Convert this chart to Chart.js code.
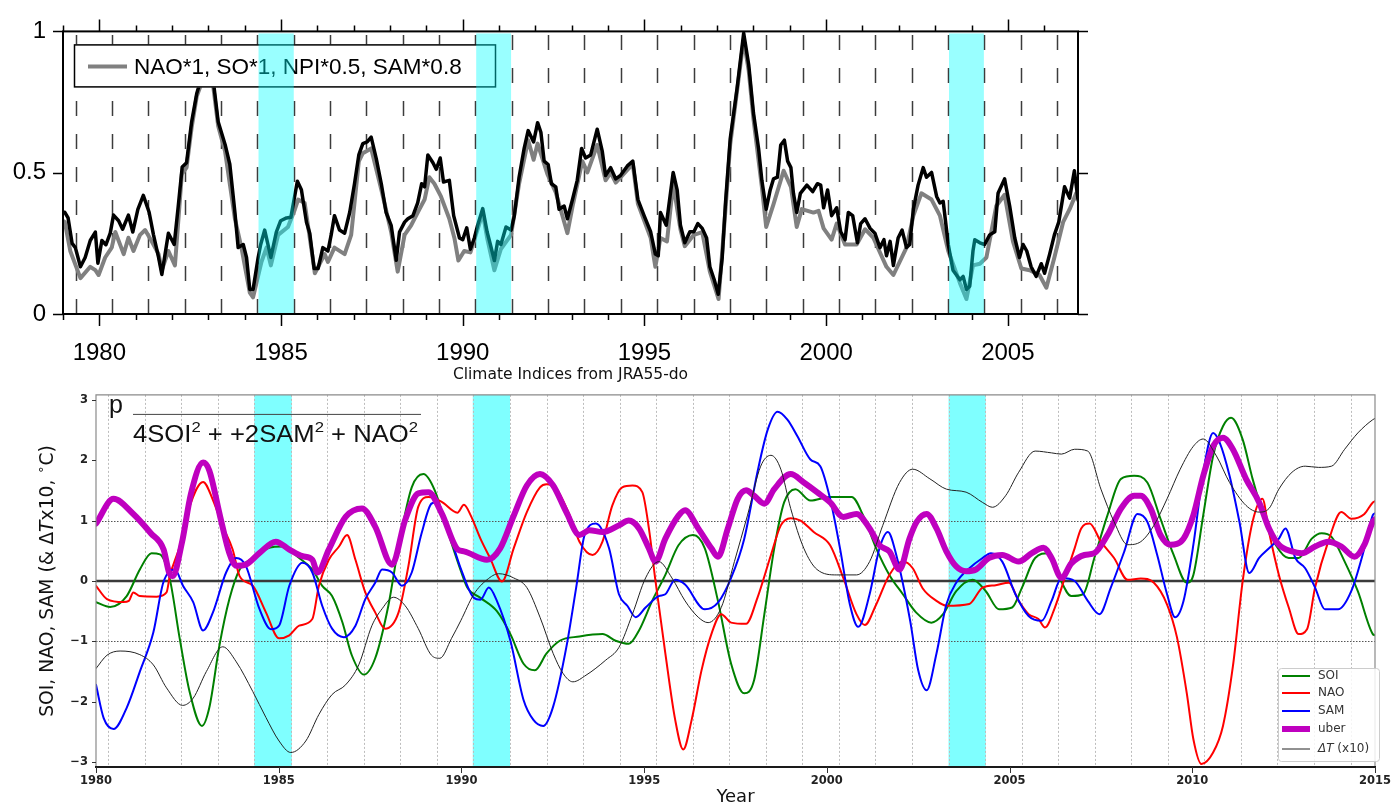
<!DOCTYPE html>
<html>
<head>
<meta charset="utf-8">
<script src="https://cdn.jsdelivr.net/npm/chart.js@4.4.1/dist/chart.umd.min.js"></script>
<style>
  html, body { margin: 0; padding: 0; background: #fff; }
  #wrap { position: relative; width: 1398px; height: 807px; overflow: hidden; }
  #top { position: absolute; left: 0; top: 0; }
  #bot { position: absolute; left: 0; top: 380px; }
</style>
</head>
<body>
<div id="wrap">
  <canvas id="top" width="1398" height="385"></canvas>
  <canvas id="bot" width="1398" height="427"></canvas>
</div>
<script>
// ---------- top panel: combined index (black) and weighted index (gray) ----------
const topLegendLabel = "NAO*1, SO*1, NPI*0.5, SAM*0.8";
const topAxisTitle = "Climate Indices from JRA55-do";
const topTickYears = [1980, 1985, 1990, 1995, 2000, 2005];
const topTickValues = [0, 0.5, 1];

const topBlackYears = [1979.00, 1979.05, 1979.14, 1979.25, 1979.34, 1979.48, 1979.61, 1979.75, 1979.89, 1979.96,
  1980.07, 1980.18, 1980.30, 1980.39, 1980.53, 1980.64, 1980.80, 1980.92, 1981.06, 1981.21, 1981.37, 1981.49,
  1981.63, 1981.72, 1981.90, 1982.06, 1982.17, 1982.28, 1982.40, 1982.54, 1982.68, 1982.82, 1982.97, 1983.14,
  1983.27, 1983.46, 1983.59, 1983.73, 1983.82, 1983.96, 1984.05, 1984.14, 1984.23, 1984.37, 1984.44, 1984.55,
  1984.72, 1984.87, 1984.99, 1985.15, 1985.27, 1985.38, 1985.45, 1985.56, 1985.70, 1985.79, 1985.91, 1986.02,
  1986.15, 1986.29, 1986.38, 1986.47, 1986.61, 1986.75, 1986.89, 1987.02, 1987.14, 1987.25, 1987.37, 1987.48,
  1987.62, 1987.76, 1987.89, 1988.03, 1988.17, 1988.26, 1988.40, 1988.49, 1988.63, 1988.76, 1988.87, 1988.95,
  1989.04, 1989.18, 1989.27, 1989.38, 1989.47, 1989.63, 1989.75, 1989.91, 1990.00, 1990.11, 1990.21, 1990.32,
  1990.41, 1990.55, 1990.67, 1990.76, 1990.87, 1990.96, 1991.05, 1991.19, 1991.33, 1991.42, 1991.55, 1991.69,
  1991.80, 1991.95, 1992.06, 1992.15, 1992.24, 1992.35, 1992.44, 1992.56, 1992.65, 1992.79, 1992.88, 1993.02,
  1993.15, 1993.27, 1993.38, 1993.52, 1993.70, 1993.84, 1993.93, 1994.07, 1994.21, 1994.34, 1994.53, 1994.68,
  1994.82, 1994.99, 1995.17, 1995.30, 1995.38, 1995.44, 1995.60, 1995.79, 1995.90, 1995.99, 1996.11, 1996.25,
  1996.36, 1996.47, 1996.59, 1996.71, 1996.80, 1996.92, 1997.03, 1997.14, 1997.23, 1997.36, 1997.55, 1997.73,
  1997.87, 1998.00, 1998.14, 1998.23, 1998.35, 1998.46, 1998.55, 1998.66, 1998.75, 1998.85, 1998.94, 1999.03,
  1999.10, 1999.19, 1999.29, 1999.47, 1999.63, 1999.76, 1999.85, 1999.93, 2000.04, 2000.15, 2000.29, 2000.40,
  2000.52, 2000.61, 2000.73, 2000.86, 2000.95, 2001.07, 2001.21, 2001.34, 2001.48, 2001.59, 2001.66, 2001.76,
  2001.85, 2001.98, 2002.09, 2002.21, 2002.30, 2002.40, 2002.53, 2002.67, 2002.76, 2002.90, 2003.04, 2003.13,
  2003.22, 2003.36, 2003.49, 2003.68, 2003.77, 2003.86, 2003.95, 2004.04, 2004.09, 2004.23, 2004.36, 2004.50,
  2004.64, 2004.73, 2004.91, 2005.05, 2005.19, 2005.32, 2005.42, 2005.52, 2005.64, 2005.78, 2005.92, 2006.01,
  2006.15, 2006.28, 2006.40, 2006.56, 2006.70, 2006.83, 2006.93];
const topBlackValues = [0.36, 0.36, 0.34, 0.25, 0.235, 0.167, 0.20, 0.26, 0.29, 0.18,
  0.26, 0.245, 0.286, 0.35, 0.33, 0.30, 0.35, 0.29, 0.37, 0.42, 0.36, 0.28,
  0.20, 0.14, 0.286, 0.246, 0.38, 0.52, 0.535, 0.68, 0.78, 0.84, 0.90, 0.82,
  0.68, 0.60, 0.53, 0.36, 0.235, 0.246, 0.20, 0.087, 0.087, 0.20, 0.246, 0.297,
  0.20, 0.29, 0.33, 0.34, 0.342, 0.42, 0.47, 0.44, 0.325, 0.286, 0.161, 0.161,
  0.235, 0.223, 0.28, 0.348, 0.297, 0.286, 0.36, 0.46, 0.563, 0.603, 0.609, 0.626,
  0.55, 0.46, 0.36, 0.314, 0.19, 0.29, 0.325, 0.337, 0.348, 0.393, 0.461, 0.45,
  0.563, 0.535, 0.512, 0.552, 0.467, 0.473, 0.348, 0.269, 0.263, 0.305, 0.229, 0.269,
  0.314, 0.373, 0.291, 0.246, 0.189, 0.257, 0.246, 0.308, 0.297, 0.348, 0.484, 0.586,
  0.649, 0.609, 0.677, 0.643, 0.541, 0.529, 0.461, 0.45, 0.371, 0.382, 0.337, 0.405,
  0.473, 0.586, 0.552, 0.563, 0.654, 0.575, 0.49, 0.518, 0.478, 0.49, 0.524, 0.541,
  0.405, 0.348, 0.291, 0.212, 0.206, 0.359, 0.314, 0.501, 0.439, 0.314, 0.252, 0.291,
  0.291, 0.32, 0.303, 0.269, 0.167, 0.121, 0.07, 0.20, 0.393, 0.62, 0.80, 0.994,
  0.881, 0.711, 0.586, 0.473, 0.371, 0.439, 0.478, 0.484, 0.598, 0.615, 0.541, 0.518,
  0.427, 0.359, 0.427, 0.456, 0.433, 0.461, 0.456, 0.376, 0.439, 0.348, 0.376, 0.291,
  0.263, 0.359, 0.348, 0.252, 0.32, 0.337, 0.303, 0.286, 0.235, 0.263, 0.206, 0.257,
  0.172, 0.269, 0.297, 0.235, 0.246, 0.371, 0.456, 0.518, 0.484, 0.501, 0.416, 0.393,
  0.399, 0.246, 0.155, 0.121, 0.133, 0.087, 0.098, 0.223, 0.263, 0.252, 0.246, 0.28,
  0.291, 0.427, 0.478, 0.382, 0.269, 0.20, 0.246, 0.223, 0.167, 0.133, 0.178, 0.144,
  0.212, 0.28, 0.325, 0.45, 0.41, 0.507, 0.405];

const topGrayYears = [1979.00, 1979.05, 1979.20, 1979.48, 1979.75, 1979.89, 1979.98, 1980.16, 1980.34, 1980.44,
  1980.67, 1980.80, 1980.94, 1981.12, 1981.26, 1981.44, 1981.63, 1981.72, 1981.90, 1982.08, 1982.27, 1982.40,
  1982.54, 1982.68, 1982.82, 1982.97, 1983.14, 1983.27, 1983.46, 1983.73, 1983.91, 1984.14, 1984.23, 1984.46,
  1984.60, 1984.72, 1984.92, 1985.19, 1985.38, 1985.47, 1985.65, 1985.79, 1985.93, 1986.20, 1986.29, 1986.47,
  1986.75, 1986.93, 1987.14, 1987.25, 1987.48, 1987.76, 1988.03, 1988.21, 1988.40, 1988.58, 1988.81, 1988.95,
  1989.08, 1989.22, 1989.40, 1989.63, 1989.77, 1989.88, 1990.04, 1990.21, 1990.41, 1990.55, 1990.67, 1990.87,
  1991.05, 1991.33, 1991.55, 1991.80, 1991.95, 1992.06, 1992.33, 1992.56, 1992.88, 1993.02, 1993.29, 1993.43,
  1993.70, 1993.93, 1994.07, 1994.21, 1994.53, 1994.68, 1994.82, 1995.17, 1995.30, 1995.44, 1995.62, 1995.79,
  1995.99, 1996.11, 1996.36, 1996.59, 1996.80, 1997.04, 1997.23, 1997.36, 1997.73, 1997.87, 1998.00, 1998.23,
  1998.35, 1998.55, 1998.83, 1999.03, 1999.19, 1999.33, 1999.65, 1999.79, 1999.93, 2000.15, 2000.29, 2000.52,
  2000.84, 2001.07, 2001.30, 2001.66, 2001.85, 2002.21, 2002.40, 2002.62, 2002.90, 2003.13, 2003.36, 2003.68,
  2003.86, 2004.04, 2004.23, 2004.41, 2004.68, 2004.91, 2005.14, 2005.37, 2005.60, 2005.87, 2006.06, 2006.28,
  2006.52, 2006.70, 2006.88, 2006.93];
const topGrayValues = [0.33, 0.325, 0.223, 0.127, 0.167, 0.155, 0.138, 0.20, 0.235, 0.29,
  0.212, 0.27, 0.223, 0.28, 0.297, 0.257, 0.212, 0.155, 0.223, 0.172, 0.495, 0.518,
  0.66, 0.77, 0.82, 0.88, 0.80, 0.665, 0.575, 0.337, 0.235, 0.076, 0.059, 0.184,
  0.235, 0.172, 0.28, 0.308, 0.37, 0.405, 0.393, 0.27, 0.144, 0.212, 0.184, 0.235,
  0.212, 0.28, 0.54, 0.569, 0.586, 0.44, 0.29, 0.15, 0.28, 0.314, 0.371, 0.405,
  0.484, 0.461, 0.416, 0.337, 0.269, 0.189, 0.223, 0.218, 0.30, 0.359, 0.27, 0.155,
  0.23, 0.28, 0.461, 0.615, 0.546, 0.603, 0.495, 0.43, 0.286, 0.38, 0.541, 0.501,
  0.598, 0.473, 0.50, 0.465, 0.51, 0.53, 0.39, 0.27, 0.167, 0.269, 0.257, 0.461,
  0.30, 0.24, 0.28, 0.29, 0.15, 0.053, 0.37, 0.60, 0.972, 0.86, 0.69, 0.45,
  0.308, 0.388, 0.507, 0.45, 0.308, 0.371, 0.359, 0.365, 0.303, 0.263, 0.32, 0.246,
  0.246, 0.30, 0.269, 0.167, 0.138, 0.235, 0.348, 0.427, 0.405, 0.348, 0.223, 0.11,
  0.053, 0.172, 0.178, 0.20, 0.382, 0.422, 0.257, 0.161, 0.155, 0.138, 0.093, 0.20,
  0.325, 0.371, 0.427, 0.40];

// highlighted periods (decimal years)
const topBandStarts = [1984.38, 1990.37, 2003.38];
const topBandEnds = [1985.35, 1991.33, 2004.34];
const botBandStarts = [1984.33, 1990.31, 2003.33];
const botBandEnds = [1985.36, 1991.33, 2004.35];

// ---------- bottom panel: climate indices ----------
const botTickYears = [1980, 1985, 1990, 1995, 2000, 2005, 2010, 2015];
const botTickValues = [-3, -2, -1, 0, 1, 2, 3];
const seriesLabels = ["SOI", "NAO", "SAM", "uber", "\u0394T (x10)"];

const soiYears = [1980.0, 1980.39, 1980.84, 1981.2, 1981.52, 1981.75, 1982.02, 1982.29, 1982.56, 1982.9, 1983.1,
  1983.38, 1983.65, 1983.93, 1984.29, 1984.74, 1985.1, 1985.56, 1985.92, 1986.19, 1986.46, 1986.74, 1987.0,
  1987.33, 1987.64, 1988.0, 1988.28, 1988.64, 1988.96, 1989.27, 1989.64, 1990.0, 1990.16, 1990.52, 1990.97,
  1991.34, 1991.70, 1992.01, 1992.33, 1992.69, 1993.23, 1993.86, 1994.22, 1994.58, 1994.86, 1995.22, 1995.58,
  1995.94, 1996.34, 1996.66, 1997.02, 1997.38, 1997.74, 1998.01, 1998.29, 1998.56, 1998.83, 1999.14, 1999.55,
  2000.09, 2000.68, 2000.99, 2001.35, 2001.71, 2002.08, 2002.44, 2002.86, 2003.18, 2003.54, 2003.99, 2004.35,
  2004.71, 2005.07, 2005.34, 2005.70, 2006.06, 2006.33, 2006.69, 2007.01, 2007.32, 2007.68, 2008.05, 2008.41,
  2008.77, 2009.13, 2009.49, 2009.85, 2010.03, 2010.30, 2010.57, 2010.84, 2011.06, 2011.38, 2011.65, 2012.01,
  2012.28, 2012.64, 2012.91, 2013.27, 2013.54, 2013.81, 2014.17, 2014.53, 2014.94, 2015.0];
const soiValues = [-0.35, -0.43, -0.25, 0.19, 0.46, 0.44, 0.03, -0.95, -1.83, -2.4, -2.1,
  -1.06, -0.3, 0.19, 0.38, 0.55, 0.57, 0.38, 0.19, -0.08, -0.25, -0.68, -1.23,
  -1.55, -1.28, -0.41, 0.57, 1.55, 1.77, 1.5, 0.79, 0.14, -0.11, -0.28, -0.5,
  -0.88, -1.37, -1.48, -1.2, -0.99, -0.92, -0.88, -0.99, -1.04, -0.82, -0.33, 0.1,
  0.59, 0.76, 0.54, -0.33, -1.37, -1.86, -1.64, -0.55, 0.54, 1.3, 1.52, 1.33,
  1.39, 1.39, 1.09, 0.54, 0.1, -0.22, -0.52, -0.69, -0.55, -0.17, 0.02, -0.17,
  -0.47, -0.44, -0.11, 0.38, 0.46, 0.1, -0.25, -0.22, 0.38, 1.09, 1.69, 1.74,
  1.63, 1.03, 0.43, -0.03, 0.1, 1.09, 2.07, 2.56, 2.7, 2.34, 1.69, 0.98,
  0.6, 0.38, 0.38, 0.7, 0.79, 0.73, 0.32, -0.17, -0.88, -0.9];

const naoYears = [1980.0, 1980.3, 1980.75, 1980.9, 1981.02, 1981.2, 1981.66, 1981.93, 1982.02, 1982.29, 1982.56,
  1982.93, 1983.2, 1983.47, 1983.74, 1983.93, 1984.29, 1984.65, 1985.01, 1985.29, 1985.56, 1985.92, 1986.1,
  1986.37, 1986.65, 1986.87, 1987.1, 1987.37, 1987.64, 1987.91, 1988.28, 1988.55, 1988.82, 1989.1, 1989.46,
  1989.89, 1990.07, 1990.25, 1990.52, 1990.79, 1991.11, 1991.43, 1991.79, 1992.15, 1992.33, 1992.60, 1992.96,
  1993.23, 1993.59, 1993.86, 1994.13, 1994.40, 1994.68, 1994.95, 1995.13, 1995.31, 1995.58, 1995.85, 1996.07,
  1996.30, 1996.57, 1996.84, 1997.11, 1997.38, 1997.79, 1998.10, 1998.47, 1998.74, 1999.01, 1999.28, 1999.64,
  2000.09, 2000.45, 2000.81, 2001.04, 2001.35, 2001.71, 2002.08, 2002.35, 2002.62, 2003.0, 2003.27, 2003.90,
  2004.26, 2004.62, 2004.98, 2005.25, 2005.52, 2005.79, 2005.97, 2006.24, 2006.51, 2006.78, 2006.96, 2007.19,
  2007.50, 2007.86, 2008.23, 2008.59, 2008.95, 2009.31, 2009.58, 2009.85, 2010.03, 2010.25, 2010.57, 2010.84,
  2011.11, 2011.38, 2011.65, 2011.92, 2012.10, 2012.37, 2012.64, 2012.91, 2013.14, 2013.36, 2013.72, 2014.08,
  2014.35, 2014.71, 2014.94, 2015.0];
const naoValues = [-0.08, -0.3, -0.35, -0.33, -0.19, -0.25, -0.26, -0.19, 0.08, 0.57, 1.23,
  1.64, 1.34, 0.9, 0.52, 0.08, -0.08, -0.52, -0.95, -0.9, -0.74, -0.63, -0.08,
  0.35, 0.57, 0.76, 0.35, -0.19, -0.52, -0.79, -0.52, 0.25, 1.23, 1.39, 1.31,
  1.13, 1.26, 1.09, 0.70, 0.37, -0.01, 0.54, 1.14, 1.55, 1.60, 1.52, 1.09,
  0.65, 0.43, 0.65, 1.25, 1.55, 1.58, 1.47, 0.87, 0.0, -1.2, -2.3, -2.79,
  -2.3, -1.48, -0.88, -0.55, -0.69, -0.71, -0.28, 0.43, 0.92, 1.04, 1.0, 0.81,
  0.59, 0.05, -0.55, -0.73, -0.39, 0.1, 0.32, 0.21, -0.12, -0.33, -0.41, -0.38,
  -0.11, -0.07, -0.03, -0.33, -0.55, -0.63, -0.77, -0.44, 0.05, 0.54, 0.87, 0.95,
  0.65, 0.38, 0.02, 0.04, -0.03, -0.39, -0.93, -1.86, -2.62, -3.03, -2.84, -2.4,
  -1.42, 0.0, 0.98, 1.36, 0.81, 0.1, -0.44, -0.88, -0.8, -0.11, 0.65, 1.14,
  1.03, 1.11, 1.3, 1.32];

const samYears = [1980.0, 1980.21, 1980.48, 1980.84, 1981.2, 1981.57, 1981.84, 1982.16, 1982.38, 1982.66, 1982.93,
  1983.2, 1983.56, 1983.84, 1984.1, 1984.47, 1984.79, 1985.01, 1985.29, 1985.65, 1985.92, 1986.19, 1986.46,
  1986.78, 1987.1, 1987.37, 1987.64, 1987.83, 1988.1, 1988.37, 1988.64, 1988.91, 1989.18, 1989.3, 1989.62,
  1989.98, 1990.34, 1990.52, 1990.75, 1990.97, 1991.34, 1991.70, 1991.97, 1992.24, 1992.51, 1992.87, 1993.14,
  1993.37, 1993.68, 1994.04, 1994.31, 1994.54, 1994.77, 1995.04, 1995.40, 1995.58, 1995.85, 1996.12, 1996.66,
  1997.02, 1997.38, 1997.74, 1998.10, 1998.38, 1998.65, 1998.92, 1999.19, 1999.55, 1999.82, 2000.09, 2000.36,
  2000.63, 2000.86, 2001.17, 2001.44, 2001.67, 2001.90, 2002.28, 2002.50, 2002.73, 2003.0, 2003.27, 2003.54,
  2003.90, 2004.26, 2004.49, 2004.80, 2005.16, 2005.52, 2005.88, 2006.15, 2006.42, 2006.78, 2007.14, 2007.46,
  2007.77, 2008.14, 2008.50, 2008.77, 2009.04, 2009.31, 2009.53, 2009.76, 2010.03, 2010.30, 2010.57, 2010.75,
  2011.02, 2011.29, 2011.56, 2011.83, 2012.10, 2012.37, 2012.55, 2012.82, 2013.09, 2013.36, 2013.63, 2013.99,
  2014.35, 2014.71, 2014.94, 2015.0];
const samValues = [-1.72, -2.27, -2.45, -2.1, -1.5, -0.85, -0.03, 0.19, -0.08, -0.35, -0.82,
  -0.52, 0.14, 0.38, 0.25, -0.46, -0.8, -0.74, -0.08, 0.3, 0.14, -0.41, -0.79,
  -0.93, -0.74, -0.3, -0.03, 0.19, 0.14, -0.08, 0.14, 0.79, 1.28, 1.3, 0.87,
  0.21, -0.28, -0.31, -0.11, -0.33, -0.99, -1.97, -2.3, -2.4, -2.08, -1.1, -0.11,
  0.76, 0.95, 0.54, -0.22, -0.41, -0.6, -0.44, -0.25, -0.22, 0.02, -0.06, -0.47,
  -0.36, 0.05, 0.7, 1.8, 2.5, 2.8, 2.67, 2.4, 2.01, 1.9, 1.36, 0.54,
  -0.39, -0.76, -0.22, 0.54, 0.81, 0.43, -0.66, -1.48, -1.81, -1.2, -0.39, -0.03,
  0.21, 0.38, 0.46, 0.32, -0.22, -0.58, -0.66, -0.33, 0.05, 0.0, -0.33, -0.55,
  -0.11, 0.49, 1.11, 0.98, 0.43, -0.22, -0.6, -0.33, 0.6, 1.8, 2.45, 2.29,
  1.74, 0.98, 0.13, 0.38, 0.54, 0.7, 0.87, 0.38, 0.21, -0.11, -0.47, -0.47,
  -0.17, 0.54, 1.09, 1.12];

const uberYears = [1980.0, 1980.48, 1981.0, 1981.5, 1981.85, 1982.0, 1982.1, 1982.35, 1982.6, 1982.93, 1983.1,
  1983.4, 1983.65, 1983.84, 1984.1, 1984.47, 1984.92, 1985.29, 1985.65, 1985.92, 1986.06, 1986.37, 1986.83,
  1987.28, 1987.64, 1988.1, 1988.46, 1988.82, 1989.1, 1989.46, 1989.9, 1990.07, 1990.70, 1991.06, 1991.43,
  1991.79, 1992.15, 1992.51, 1992.87, 1993.23, 1993.50, 1993.86, 1994.31, 1994.58, 1994.86, 1995.13, 1995.31,
  1995.58, 1995.94, 1996.12, 1996.48, 1996.84, 1997.02, 1997.29, 1997.56, 1997.79, 1998.01, 1998.29, 1998.56,
  1999.01, 1999.37, 1999.73, 2000.09, 2000.45, 2000.81, 2001.17, 2001.44, 2001.71, 2001.99, 2002.26, 2002.46,
  2002.73, 2003.0, 2003.27, 2003.54, 2003.81, 2004.08, 2004.44, 2004.80, 2005.25, 2005.61, 2005.93, 2006.15,
  2006.42, 2006.69, 2007.05, 2007.32, 2007.68, 2008.05, 2008.41, 2008.59, 2008.86, 2009.13, 2009.40, 2009.76,
  2010.03, 2010.30, 2010.57, 2010.84, 2011.11, 2011.47, 2011.83, 2012.10, 2012.37, 2012.73, 2013.0, 2013.36,
  2013.72, 2014.08, 2014.44, 2014.71, 2014.94, 2015.0];
const uberValues = [0.95, 1.36, 1.12, 0.79, 0.52, 0.14, 0.08, 0.63, 1.45, 1.96, 1.83,
  1.06, 0.46, 0.25, 0.27, 0.46, 0.65, 0.52, 0.41, 0.35, 0.14, 0.52, 1.06,
  1.2, 0.9, 0.27, 1.01, 1.45, 1.47, 1.12, 0.52, 0.49, 0.35, 0.54, 1.08,
  1.58, 1.77, 1.58, 1.14, 0.76, 0.84, 0.81, 0.92, 1.0, 0.87, 0.54, 0.32,
  0.70, 1.08, 1.17, 0.87, 0.54, 0.40, 0.87, 1.36, 1.50, 1.41, 1.28, 1.52,
  1.77, 1.63, 1.47, 1.30, 1.06, 1.11, 0.87, 0.59, 0.49, 0.19, 0.70, 0.98,
  1.11, 0.87, 0.49, 0.24, 0.16, 0.19, 0.38, 0.43, 0.32, 0.46, 0.55, 0.38,
  0.05, 0.29, 0.43, 0.46, 0.76, 1.2, 1.41, 1.41, 1.2, 0.76, 0.6, 0.7,
  1.09, 1.74, 2.23, 2.37, 2.18, 1.69, 1.3, 0.87, 0.6, 0.49, 0.46, 0.57,
  0.65, 0.57, 0.4, 0.6, 0.98, 1.02];

const dtYears = [1980.0, 1980.3, 1980.66, 1981.2, 1981.57, 1981.93, 1982.37, 1982.66, 1983.02, 1983.47, 1983.84,
  1984.29, 1984.65, 1985.01, 1985.33, 1985.74, 1986.1, 1986.46, 1986.83, 1987.19, 1987.55, 1987.83, 1988.14,
  1988.46, 1988.82, 1989.18, 1989.41, 1989.73, 1989.98, 1990.34, 1990.70, 1991.02, 1991.43, 1991.79, 1992.15,
  1992.51, 1992.78, 1993.05, 1993.41, 1993.95, 1994.31, 1994.68, 1995.04, 1995.40, 1995.76, 1996.12, 1996.48,
  1996.75, 1997.11, 1997.47, 1997.83, 1998.19, 1998.47, 1998.74, 1999.01, 1999.37, 1999.73, 2000.27, 2000.81,
  2001.17, 2001.53, 2001.99, 2002.35, 2002.82, 2003.27, 2003.81, 2004.26, 2004.53, 2004.89, 2005.25, 2005.70,
  2006.15, 2006.42, 2006.78, 2007.14, 2007.50, 2007.86, 2008.23, 2008.59, 2008.95, 2009.31, 2009.67, 2010.03,
  2010.30, 2010.66, 2011.02, 2011.47, 2011.83, 2012.10, 2012.37, 2012.73, 2013.09, 2013.45, 2013.81, 2014.17,
  2014.53, 2014.94, 2015.0];
const dtValues = [-1.45, -1.23, -1.16, -1.22, -1.39, -1.77, -2.06, -1.94, -1.5, -1.09, -1.34,
  -1.83, -2.26, -2.65, -2.84, -2.65, -2.21, -1.88, -1.72, -1.39, -0.74, -0.46, -0.27,
  -0.41, -0.79, -1.23, -1.28, -0.95, -0.66, -0.22, 0.02, 0.12, 0.05, -0.11, -0.6,
  -1.2, -1.53, -1.67, -1.56, -1.31, -1.1, -0.55, 0.05, 0.32, 0.05, -0.33, -0.6,
  -0.69, -0.44, 0.32, 1.09, 1.9, 2.08, 1.85, 1.2, 0.54, 0.19, 0.1, 0.1,
  0.32, 0.92, 1.63, 1.85, 1.69, 1.52, 1.47, 1.3, 1.22, 1.41, 1.8, 2.15,
  2.12, 2.1, 2.18, 2.15, 1.52, 0.98, 0.6, 0.65, 0.92, 1.36, 1.85, 2.23,
  2.35, 2.07, 1.63, 1.25, 1.14, 1.2, 1.52, 1.8, 1.9, 1.88, 1.9, 2.18,
  2.45, 2.67, 2.69];

const pairs = (xs, ys) => xs.map((x, i) => ({ x: x, y: ys[i] }));
const minus = v => (v < 0 ? "\u2212" + Math.abs(v) : String(v));

// draws a row of [text, font, dy] pieces, returns total width
function drawPieces(ctx, pieces, x, y, dryRun) {
  let cx = x;
  pieces.forEach(([t, f, dy]) => {
    ctx.font = f;
    if (!dryRun) ctx.fillText(t, cx, y + (dy || 0));
    cx += ctx.measureText(t).width;
  });
  return cx - x;
}

// ---------- top panel decorations ----------
const topDecor = {
  id: "topDecor",
  beforeDatasetsDraw(chart) {
    const { ctx, chartArea: a, scales: { x } } = chart;
    ctx.save();
    ctx.strokeStyle = "#3c3c3c";
    ctx.lineWidth = 1.5;
    ctx.setLineDash([15, 18]);
    for (let yr = 1979; yr <= 2006; yr++) {
      const px = Math.round(x.getPixelForValue(yr + 0.35)) + 0.5;
      if (px > a.right) continue;
      ctx.beginPath();
      ctx.moveTo(px, a.bottom);
      ctx.lineTo(px, a.top);
      ctx.stroke();
    }
    ctx.restore();
  },
  afterDatasetsDraw(chart) {
    const { ctx, chartArea: a, scales: { x, y } } = chart;
    ctx.save();
    // legend box
    const lx = a.left + 11, ly = a.top + 13;
    ctx.fillStyle = "#fff";
    ctx.fillRect(lx, ly, 422, 43);
    ctx.strokeStyle = "#000";
    ctx.lineWidth = 1.5;
    ctx.strokeRect(lx + 0.5, ly + 0.5, 421, 42);
    ctx.strokeStyle = "#808080";
    ctx.lineWidth = 4;
    ctx.beginPath();
    ctx.moveTo(lx + 14, ly + 22);
    ctx.lineTo(lx + 53, ly + 22);
    ctx.stroke();
    ctx.fillStyle = "#000";
    ctx.font = '22.5px "Liberation Sans", Arial, sans-serif';
    ctx.textBaseline = "middle";
    ctx.fillText(topLegendLabel, lx + 60, ly + 23);

    // highlighted periods, translucent over everything
    ctx.fillStyle = "rgba(0,255,255,0.4)";
    topBandStarts.forEach((s, i) => {
      const x0 = x.getPixelForValue(s), x1 = x.getPixelForValue(topBandEnds[i]);
      ctx.fillRect(x0, a.top + 2, x1 - x0, a.bottom - a.top - 2);
    });

    // frame
    ctx.strokeStyle = "#000";
    ctx.lineWidth = 2;
    ctx.strokeRect(a.left, a.top, a.right - a.left, a.bottom - a.top);

    // year ticks (outward, top and bottom)
    ctx.lineWidth = 1.5;
    ctx.beginPath();
    for (let yr = 1979; yr <= 2006; yr++) {
      const px = Math.round(x.getPixelForValue(yr)) + 0.5;
      const len = yr % 5 === 0 ? 12 : 6;
      ctx.moveTo(px, a.bottom); ctx.lineTo(px, a.bottom + len);
      ctx.moveTo(px, a.top); ctx.lineTo(px, a.top - len);
    }
    topTickValues.forEach(v => {
      const py = Math.round(y.getPixelForValue(v)) + 0.5;
      ctx.moveTo(a.left, py); ctx.lineTo(a.left - 10, py);
      ctx.moveTo(a.right, py); ctx.lineTo(a.right + 10, py);
    });
    ctx.stroke();

    // axis title
    ctx.fillStyle = "#111";
    ctx.font = '15.5px "DejaVu Sans", sans-serif';
    ctx.textAlign = "center";
    ctx.textBaseline = "middle";
    ctx.fillText(topAxisTitle, (a.left + a.right) / 2, 375);
    ctx.restore();
  }
};

new Chart(document.getElementById("top"), {
  type: "line",
  data: {
    datasets: [
      { label: "combined", data: pairs(topBlackYears, topBlackValues), borderColor: "#000", borderWidth: 3.5,
        pointRadius: 0, tension: 0, order: 1, borderJoinStyle: "round" },
      { label: topLegendLabel, data: pairs(topGrayYears, topGrayValues), borderColor: "#808080", borderWidth: 4,
        pointRadius: 0, tension: 0, order: 2, borderJoinStyle: "round" }
    ]
  },
  options: {
    responsive: false,
    animation: false,
    events: [],
    layout: { padding: { left: 0, right: 320, top: 20, bottom: 0 } },
    plugins: { legend: { display: false }, tooltip: { enabled: false } },
    scales: {
      x: {
        type: "linear", min: 1979, max: 2006.93,
        grid: { display: false, drawTicks: false, tickLength: 0 },
        border: { display: false },
        afterBuildTicks: s => { s.ticks = topTickYears.map(v => ({ value: v })); },
        afterFit: s => { s.height = 71; },
        ticks: { color: "#000", font: { family: '"Liberation Sans", Arial, sans-serif', size: 24 },
                 padding: 25, maxRotation: 0, autoSkip: false, callback: v => String(v) }
      },
      y: {
        type: "linear", min: 0, max: 1,
        grid: { display: false, drawTicks: false, tickLength: 0 },
        border: { display: false },
        afterBuildTicks: s => { s.ticks = topTickValues.map(v => ({ value: v })); },
        afterFit: s => { s.width = 63; },
        ticks: { color: "#000", font: { family: '"Liberation Sans", Arial, sans-serif', size: 24 },
                 padding: 17, callback: v => String(v) }
      }
    }
  },
  plugins: [topDecor]
});

// ---------- bottom panel decorations ----------
const botDecor = {
  id: "botDecor",
  beforeDatasetsDraw(chart) {
    const { ctx, chartArea: a, scales: { x, y } } = chart;
    ctx.save();
    ctx.fillStyle = "rgba(0,255,255,0.5)";
    botBandStarts.forEach((s, i) => {
      const x0 = x.getPixelForValue(s), x1 = x.getPixelForValue(botBandEnds[i]);
      ctx.fillRect(x0, a.top, x1 - x0, a.bottom - a.top);
    });
    // yearly dotted lines
    ctx.strokeStyle = "#bdbdbd";
    ctx.lineWidth = 1;
    ctx.setLineDash([2, 2]);
    for (let yr = 1980; yr <= 2014; yr++) {
      const px = Math.round(x.getPixelForValue(yr + 0.33)) + 0.5;
      ctx.beginPath(); ctx.moveTo(px, a.top); ctx.lineTo(px, a.bottom); ctx.stroke();
    }
    // +-1 dotted reference lines
    ctx.strokeStyle = "#555";
    ctx.setLineDash([1.5, 1.5]);
    [-1, 1].forEach(v => {
      const py = Math.round(y.getPixelForValue(v)) + 0.5;
      ctx.beginPath(); ctx.moveTo(a.left, py); ctx.lineTo(a.right, py); ctx.stroke();
    });
    ctx.setLineDash([]);
    ctx.strokeStyle = "#3a3a3a";
    ctx.lineWidth = 2.5;
    const p0 = y.getPixelForValue(0);
    ctx.beginPath(); ctx.moveTo(a.left, p0); ctx.lineTo(a.right, p0); ctx.stroke();
    ctx.restore();
  },
  afterDraw(chart) {
    const { ctx, chartArea: a, scales: { x, y } } = chart;
    ctx.save();
    // frame
    ctx.strokeStyle = "#8a8a8a";
    ctx.lineWidth = 1.2;
    ctx.beginPath();
    ctx.moveTo(a.left, a.bottom); ctx.lineTo(a.left, a.top); ctx.lineTo(a.right, a.top); ctx.lineTo(a.right, a.bottom);
    ctx.stroke();
    ctx.strokeStyle = "#1a1a1a";
    ctx.lineWidth = 2;
    ctx.beginPath(); ctx.moveTo(a.left - 1, a.bottom); ctx.lineTo(a.right + 1, a.bottom); ctx.stroke();
    // tick marks
    ctx.strokeStyle = "#333";
    ctx.lineWidth = 1;
    ctx.beginPath();
    botTickValues.forEach(v => {
      const py = Math.round(y.getPixelForValue(v)) + 0.5;
      ctx.moveTo(a.left, py); ctx.lineTo(a.left - 4, py);
    });
    botTickYears.forEach(v => {
      const px = Math.round(x.getPixelForValue(v)) + 0.5;
      ctx.moveTo(px, a.bottom); ctx.lineTo(px, a.bottom + 6);
    });
    ctx.stroke();

    // formula label
    ctx.fillStyle = "#111";
    ctx.textBaseline = "alphabetic";
    ctx.textAlign = "left";
    ctx.font = '25px "Liberation Sans", Arial, sans-serif';
    ctx.fillText("p", a.left + 13, a.top + 18);
    ctx.strokeStyle = "#444";
    ctx.lineWidth = 1;
    ctx.beginPath(); ctx.moveTo(a.left + 37, a.top + 19.5); ctx.lineTo(a.left + 325, a.top + 19.5); ctx.stroke();
    const big = '23px "Liberation Sans", Arial, sans-serif';
    const sup = '15px "Liberation Sans", Arial, sans-serif';
    const denom = [["4SOI", big, 0], ["2", sup, -10], [" + +2SAM", big, 0], ["2", sup, -10], [" + NAO", big, 0], ["2", sup, -10]];
    const dw = drawPieces(ctx, denom, 0, 0, true);
    ctx.save();
    ctx.translate(a.left + 37, a.top + 47);
    ctx.scale(285 / dw, 1);
    drawPieces(ctx, denom, 0, 0, false);
    ctx.restore();

    // y title
    ctx.fillStyle = "#111";
    const yt = s => [
      ["SOI, NAO, SAM (& \u0394", s + 'px "DejaVu Sans", sans-serif', 0],
      ["T", "italic " + s + 'px "DejaVu Sans", sans-serif', 0],
      ["x10, ", s + 'px "DejaVu Sans", sans-serif', 0],
      ["\u2218", (s * 0.7) + 'px "DejaVu Sans", sans-serif', -s * 0.35],
      ["C)", s + 'px "DejaVu Sans", sans-serif', 0]
    ];
    const w18 = drawPieces(ctx, yt(18), 0, 0, true);
    const fs = 18 * 272 / w18;
    const tw = drawPieces(ctx, yt(fs), 0, 0, true);
    ctx.save();
    ctx.translate(48, y.getPixelForValue(0));
    ctx.rotate(-Math.PI / 2);
    ctx.textBaseline = "middle";
    drawPieces(ctx, yt(fs), -tw / 2, 0, false);
    ctx.restore();

    // x title
    ctx.font = '18px "DejaVu Sans", sans-serif';
    ctx.textAlign = "center";
    ctx.textBaseline = "middle";
    ctx.fillStyle = "#111";
    ctx.fillText("Year", (a.left + a.right) / 2, 417);

    // legend
    const bx = 1278, by = 288, bw = 101, bh = 93;
    ctx.fillStyle = "rgba(255,255,255,0.85)";
    ctx.strokeStyle = "#cccccc";
    ctx.lineWidth = 1;
    ctx.beginPath();
    ctx.roundRect(bx + 0.5, by + 0.5, bw, bh, 3);
    ctx.fill();
    ctx.stroke();
    const rowsY = [8, 25, 43, 61, 81];
    ctx.textAlign = "left";
    ctx.textBaseline = "middle";
    chart.data.datasets.forEach((ds, i) => {
      const ry = by + rowsY[i];
      ctx.strokeStyle = ds.borderColor;
      ctx.lineWidth = ds.borderWidth;
      ctx.beginPath(); ctx.moveTo(bx + 4, ry); ctx.lineTo(bx + 32, ry); ctx.stroke();
      ctx.fillStyle = "#333";
      if (i === 4) {
        drawPieces(ctx, [["\u0394", 'italic 12px "DejaVu Sans", sans-serif', 0],
                         ["T", 'italic 12px "DejaVu Sans", sans-serif', 0],
                         [" (x10)", '12px "DejaVu Sans", sans-serif', 0]], bx + 40, ry, false);
      } else {
        ctx.font = '12px "DejaVu Sans", sans-serif';
        ctx.fillText(seriesLabels[i], bx + 40, ry);
      }
    });
    ctx.restore();
  }
};

const lineDefaults = { pointRadius: 0, cubicInterpolationMode: "monotone", borderJoinStyle: "round", borderCapStyle: "round" };

new Chart(document.getElementById("bot"), {
  type: "line",
  data: {
    datasets: [
      Object.assign({ label: seriesLabels[0], data: pairs(soiYears, soiValues), borderColor: "#008000", borderWidth: 2, order: 5 }, lineDefaults),
      Object.assign({ label: seriesLabels[1], data: pairs(naoYears, naoValues), borderColor: "#ff0000", borderWidth: 2, order: 4 }, lineDefaults),
      Object.assign({ label: seriesLabels[2], data: pairs(samYears, samValues), borderColor: "#0000ff", borderWidth: 2, order: 3 }, lineDefaults),
      Object.assign({ label: seriesLabels[3], data: pairs(uberYears, uberValues), borderColor: "#bf00bf", borderWidth: 6, order: 2 }, lineDefaults),
      Object.assign({ label: seriesLabels[4], data: pairs(dtYears, dtValues), borderColor: "#222222", borderWidth: 1, order: 1 }, lineDefaults)
    ]
  },
  options: {
    responsive: false,
    animation: false,
    events: [],
    layout: { padding: { left: 0, right: 13, top: 10, bottom: 0 } },
    plugins: { legend: { display: false }, tooltip: { enabled: false } },
    scales: {
      x: {
        type: "linear", min: 1980, max: 2015,
        grid: { display: false, drawTicks: false, tickLength: 0 },
        border: { display: false },
        afterBuildTicks: s => { s.ticks = botTickYears.map(v => ({ value: v })); },
        afterFit: s => { s.height = 40; },
        ticks: { color: "#222", font: { family: '"DejaVu Sans", sans-serif', size: 11.5, weight: "bold" },
                 padding: 7, maxRotation: 0, autoSkip: false, callback: v => String(v) }
      },
      y: {
        type: "linear", min: -3.08, max: 3.08,
        grid: { display: false, drawTicks: false, tickLength: 0 },
        border: { display: false },
        afterBuildTicks: s => { s.ticks = botTickValues.map(v => ({ value: v })); },
        afterFit: s => { s.width = 96; },
        ticks: { color: "#222", font: { family: '"DejaVu Sans", sans-serif', size: 11.5, weight: "bold" },
                 padding: 8, callback: v => minus(v) }
      }
    }
  },
  plugins: [botDecor]
});
</script>
</body>
</html>
